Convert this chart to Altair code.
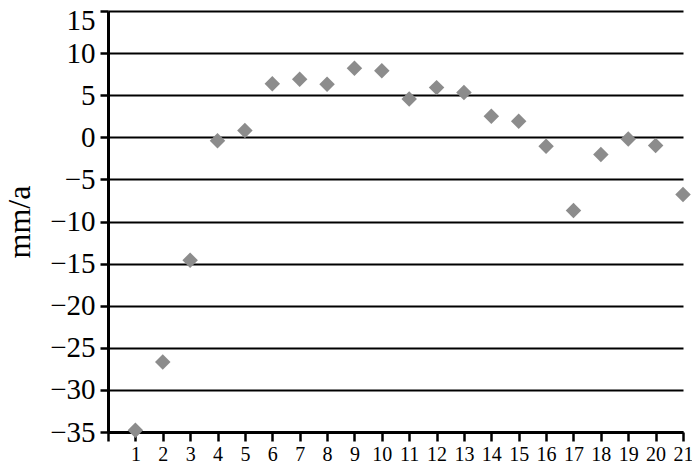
import altair as alt
import pandas as pd

xs = list(range(1, 22))
vals = [-34.8, -26.7, -14.6, -0.4, 0.8, 6.36, 6.9, 6.3, 8.2, 7.9, 4.55, 5.9,
        5.33, 2.5, 1.9, -1.07, -8.7, -2.05, -0.2, -0.98, -6.8]
y_ticks = list(range(-35, 20, 5))
x_ticks = list(range(0, 22))

df = pd.DataFrame({"x": xs, "y": vals})

FONT = "Liberation Serif"

chart = alt.Chart(df).mark_point(
    shape="diamond", filled=True, size=240, color="#8c8c8c", opacity=1
).encode(
    x=alt.X("x:Q", scale=alt.Scale(domain=[0, 21], nice=False, zero=False),
            axis=alt.Axis(values=x_ticks, title=None, grid=False,
                          labelExpr="datum.value == 0 ? '' : datum.label",
                          labelFont=FONT, labelFontSize=20, labelColor="black",
                          labelPadding=3, labelFlush=False, labelOverlap=False,
                          tickSize=9, tickWidth=2.5, tickColor="black",
                          domainColor="black", domainWidth=3)),
    y=alt.Y("y:Q", scale=alt.Scale(domain=[-35, 15], nice=False, zero=False),
            axis=alt.Axis(values=y_ticks, title="mm/a", grid=True,
                          gridColor="black", gridWidth=2, gridOpacity=1,
                          labelFont=FONT, labelFontSize=29, labelColor="black",
                          labelPadding=5, labelFlush=False, labelOverlap=False,
                          labelOffset=alt.condition("datum.value == 15", alt.value(9), alt.value(0)),
                          tickSize=8, tickWidth=2.5, tickColor="black",
                          domainColor="black", domainWidth=3,
                          titleFont=FONT, titleFontSize=32, titleFontWeight="normal",
                          titleColor="black", titlePadding=13))
).properties(
    width=575, height=421,
    autosize=alt.AutoSizeParams(type="none"),
    padding={"left": 100, "top": 3, "right": 9, "bottom": 31}
).configure_view(stroke=None)

chart.save("out.html", embed_options={"renderer": "svg", "actions": False})
